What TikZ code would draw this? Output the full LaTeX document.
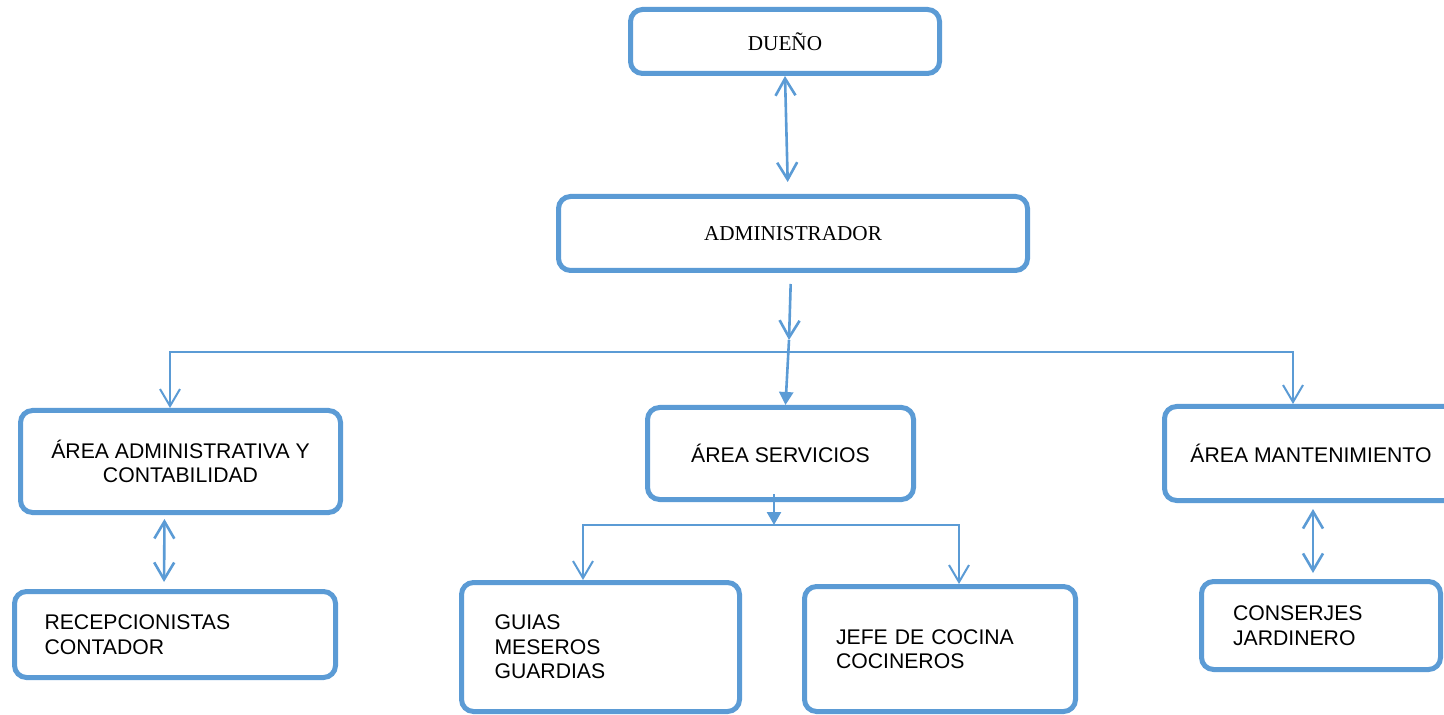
\documentclass[tikz,border=0pt]{standalone}
\usepackage{fontspec}
\setmainfont{Liberation Sans}
\newfontfamily\romanfont{Liberation Serif}
\usepackage{tikz}
\usetikzlibrary{arrows.meta, positioning, calc}
\definecolor{chartblue}{HTML}{5B9BD5}

\tikzset{
  openv/.tip={Straight Barb[length=8.5pt, width=10pt]},
  unitbox/.style={draw=chartblue, line width=2.5pt, rounded corners=6pt, inner sep=0pt, align=center},
  romanbox/.style={unitbox, font=\romanfont\fontsize{10.6}{12.3}\selectfont},
  listbox/.style={unitbox, align=left},
  twoway/.style={openv-openv, draw=chartblue, line width=1.3pt},
  oneway/.style={-openv, draw=chartblue, line width=1.3pt},
  solidway/.style={-{Triangle[length=6.5pt, width=7pt]}, draw=chartblue, fill=chartblue, line width=1.3pt},
  branch/.style={openv-openv, draw=chartblue, line width=1pt}
}

\begin{document}
\begin{tikzpicture}[x=0.5pt, y=-0.5pt, font=\fontsize{10.6}{12.3}\selectfont]
  \useasboundingbox (0,0) rectangle (1444,715);
  \clip (0,0) rectangle (1444,715);

  % Top of the chart
  \node[romanbox, minimum width=154.5pt, minimum height=32pt] (dueno) at (785,41.5) {DUEÑO};
  \node[romanbox, minimum width=234.5pt, minimum height=37pt] (admin) at (793,233.5) {ADMINISTRADOR};

  % Areas
  \node[unitbox, minimum width=160pt, minimum height=51pt] (areaadm) at (180.5,461.5) {ÁREA ADMINISTRATIVA Y\\CONTABILIDAD};
  \node[unitbox, minimum width=133pt, minimum height=46pt] (areaserv) at (780.5,453.5) {ÁREA SERVICIOS};
  \node[unitbox, minimum width=146.5pt, minimum height=47pt] (areamant) at (1311,453.5) {ÁREA MANTENIMIENTO};

  % Staff
  \node[listbox, text width=130.5pt, inner xsep=15pt, minimum height=43pt] (recep) at (175,634.5) {RECEPCIONISTAS\\CONTADOR};
  \node[listbox, text width=106pt, inner xsep=16.5pt, minimum height=64.5pt] (guias) at (600.5,647) {GUIAS\\MESEROS\\GUARDIAS};
  \node[listbox, text width=104pt, inner xsep=15.75pt, minimum height=62.5pt] (jefe) at (940,649) {JEFE DE COCINA\\COCINEROS};
  \node[listbox, text width=88pt, inner xsep=15.75pt, minimum height=44pt] (conserj) at (1321,625.5) {CONSERJES\\JARDINERO};

  % Junctions
  \coordinate (hub) at (789,340);
  \coordinate (barl) at (170,352);
  \coordinate (barr) at (1293,352);
  \coordinate (servhub) at (774,525);
  \coordinate (servl) at (583,525);
  \coordinate (servr) at (959,525);

  % Connections
  \draw[twoway, shorten >=6pt] (dueno.south) -- ([xshift=-2.5pt]admin.north);
  \draw[oneway, shorten <=5.5pt] ([xshift=-1pt]admin.south) -- (hub);
  \draw[solidway] (hub) -- ([xshift=2.5pt]areaserv.north);
  \draw[branch] (barl |- areaadm.north) -- (barl) -- (barr) -- (barr |- areamant.north);
  \draw[solidway, shorten <=-4pt] (areaserv.south -| servhub) -- (servhub);
  \draw[branch] (servl |- guias.north) -- (servl) -- (servr) -- (servr |- jefe.north);
  \draw[twoway, shorten <=2pt, shorten >=3.5pt] ([xshift=-8pt]areaadm.south) -- ([xshift=-5.5pt]recep.north);
  \draw[twoway, shorten <=3pt, shorten >=3pt] ([xshift=1pt]areamant.south) -- ([xshift=-4pt]conserj.north);
\end{tikzpicture}
\end{document}
